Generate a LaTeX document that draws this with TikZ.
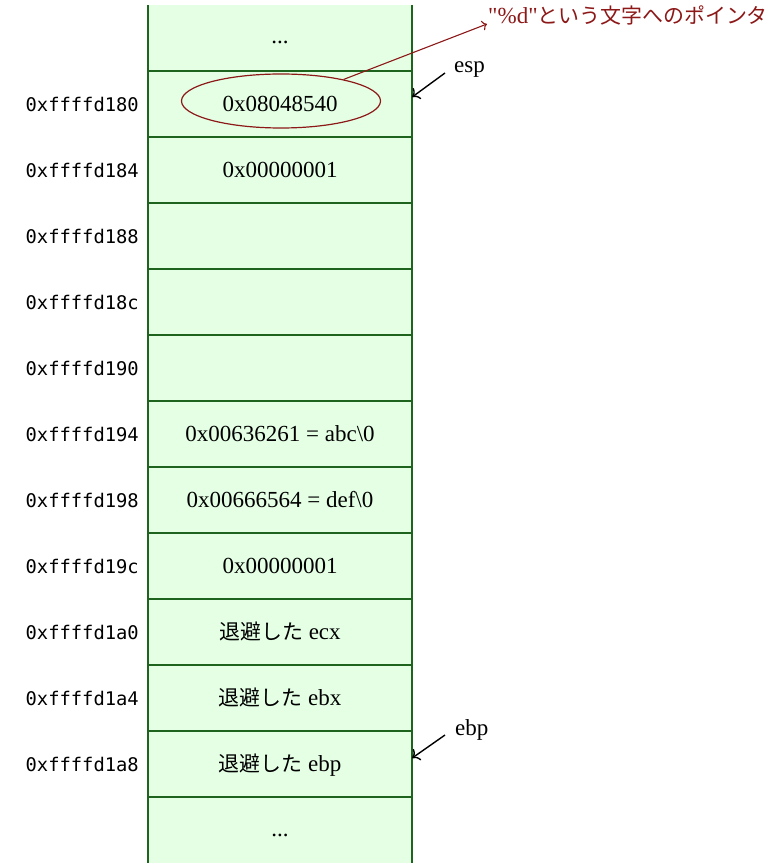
\documentclass[tikz,border=0pt]{standalone}
\usepackage{fontspec}
\setmainfont{Liberation Serif}
\newfontfamily\qfont{Liberation Serif}
\newfontfamily\cjk{Noto Sans CJK JP}[Scale=0.91]
\newfontfamily\addrfont{DejaVu Sans Mono}
\usetikzlibrary{shapes.geometric,calc,arrows.meta}
\definecolor{cellfill}{RGB}{229,255,229}
\definecolor{cellline}{RGB}{30,100,30}
\definecolor{ptrred}{RGB}{140,24,24}
\begin{document}
\begin{tikzpicture}[x=1pt,y=-1pt,
  cell/.style={rectangle, fill=cellfill, draw=none, minimum width=264pt, minimum height=66pt,
    inner sep=0pt, font=\fontsize{23}{27}\selectfont, text height=15.6pt, text depth=0pt},
  dotcell/.style={cell, text height=12pt},
  addr/.style={anchor=east, inner sep=0pt, font=\addrfont\fontsize{18.8}{22}\selectfont},
  sep/.style={draw=cellline, line width=1.5pt},
  reglabel/.style={anchor=base west, inner sep=0pt, font=\fontsize{23}{27}\selectfont},
  regarrow/.style={-{To[scale=1.4]}, line width=1.4pt, black}
]
\useasboundingbox (0,0) rectangle (782,866);
% cells
\node[dotcell] (c0)  at (280,38)  {...};
\node[cell]    (c1)  at (280,104) {0x08048540};
\node[cell]    (c2)  at (280,170) {0x00000001};
\node[cell]    (c3)  at (280,236) {};
\node[cell]    (c4)  at (280,302) {};
\node[cell]    (c5)  at (280,368) {};
\node[cell]    (c6)  at (280,434) {0x00636261 = abc\textbackslash 0};
\node[cell]    (c7)  at (280,500) {0x00666564 = def\textbackslash 0};
\node[cell]    (c8)  at (280,566) {0x00000001};
\node[cell]    (c9)  at (280,632) {{\cjk 退避した} ecx};
\node[cell]    (c10) at (280,698) {{\cjk 退避した} ebx};
\node[cell]    (c11) at (280,764) {{\cjk 退避した} ebp};
\node[dotcell] (c12) at (280,830) {...};
% borders
\draw[sep] (c0.north west) -- (c12.south west);
\draw[sep] (c0.north east) -- (c12.south east);
\foreach \i in {1,...,12} \draw[sep] (c\i.north west) -- (c\i.north east);
% addresses
\node[addr] (a0)  at (139,104) {0xffffd180};
\node[addr] (a1)  at (139,170) {0xffffd184};
\node[addr] (a2)  at (139,236) {0xffffd188};
\node[addr] (a3)  at (139,302) {0xffffd18c};
\node[addr] (a4)  at (139,368) {0xffffd190};
\node[addr] (a5)  at (139,434) {0xffffd194};
\node[addr] (a6)  at (139,500) {0xffffd198};
\node[addr] (a7)  at (139,566) {0xffffd19c};
\node[addr] (a8)  at (139,632) {0xffffd1a0};
\node[addr] (a9)  at (139,698) {0xffffd1a4};
\node[addr] (a10) at (139,764) {0xffffd1a8};
% ellipse and pointer
\node[ellipse, draw=ptrred, line width=1.2pt, minimum width=199pt, minimum height=54pt, inner sep=0pt] (e) at (281,101) {};
\node[reglabel, text=ptrred] (ptr) at (488,24) {{\qfont"\%d"}{\cjk という文字へのポインタ}};
\draw[-{To[scale=1.2]}, ptrred, line width=1.1pt] (e.19) -- ([xshift=-1pt]ptr.base west);
% registers
\node[reglabel] (esp) at (454,73) {esp};
\draw[regarrow] ([xshift=-9pt]esp.base west) -- ([yshift=7pt]c1.east);
\node[reglabel] (ebp) at (455,735) {ebp};
\draw[regarrow] ([xshift=-10pt]ebp.base west) -- ([yshift=6pt]c11.east);
\end{tikzpicture}
\end{document}
